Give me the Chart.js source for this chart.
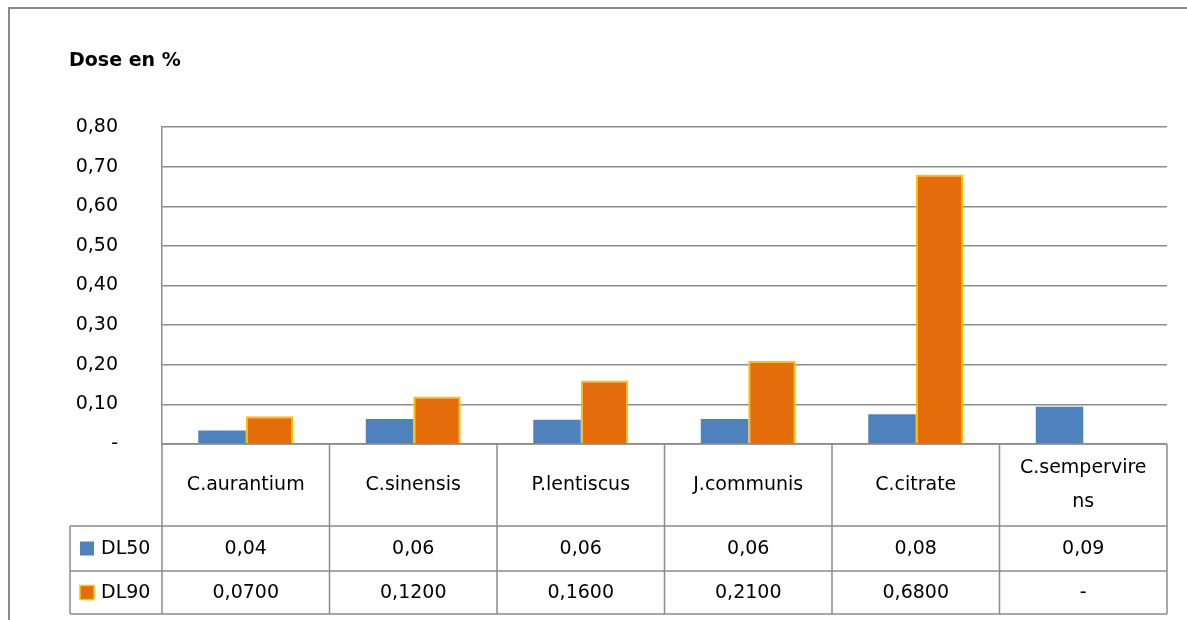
<!DOCTYPE html>
<html lang="fr">
<head>
    <meta charset="UTF-8">
    <title>Dose en %</title>
    <script src="https://cdn.jsdelivr.net/npm/chart.js"></script>
    <style>
        body { margin: 0; background: #fff; }
        #wrap { width: 1187px; height: 620px; position: relative; }
    </style>
</head>
<body>
<div id="wrap"><canvas id="myChart"></canvas></div>

<script>
    // données
    const categories = ['C.aurantium', 'C.sinensis', 'P.lentiscus', 'J.communis', 'C.citrate', ['C.sempervire', 'ns']];
    const dl50 = [0.034, 0.063, 0.061, 0.063, 0.075, 0.094];
    const dl90 = [0.07, 0.12, 0.16, 0.21, 0.68, null];
    const dl50Labels = ['0,04', '0,06', '0,06', '0,06', '0,08', '0,09'];
    const dl90Labels = ['0,0700', '0,1200', '0,1600', '0,2100', '0,6800', '-'];

    const FONT = '"DejaVu Sans", sans-serif';
    const lineCol = '#8c8c8c';

    // cadre, titre et tableau de données sous l'axe
    const tablePlugin = {
        id: 'dataTable',
        afterDraw(chart) {
            const ctx = chart.ctx;
            const area = chart.chartArea;
            const x = chart.scales.x;
            const n = categories.length;
            const cw = area.width / n;
            const top = area.bottom;
            const row1 = top + 82;
            const row2 = row1 + 45;
            const bottom = row2 + 43;
            const legLeft = 70;

            ctx.save();
            // cadre extérieur
            ctx.strokeStyle = '#8a8a8a';
            ctx.lineWidth = 2;
            ctx.beginPath();
            ctx.moveTo(9, 620);
            ctx.lineTo(9, 8);
            ctx.lineTo(1187, 8);
            ctx.stroke();

            // titre
            ctx.fillStyle = '#000';
            ctx.font = 'bold 19px ' + FONT;
            ctx.textBaseline = 'middle';
            ctx.textAlign = 'left';
            ctx.fillText('Dose en %', 69, 61);

            // lignes du tableau
            ctx.strokeStyle = lineCol;
            ctx.lineWidth = 1.5;
            ctx.beginPath();
            ctx.moveTo(area.left, top); ctx.lineTo(area.right, top);
            ctx.moveTo(legLeft, row1); ctx.lineTo(area.right, row1);
            ctx.moveTo(legLeft, row2); ctx.lineTo(area.right, row2);
            ctx.moveTo(legLeft, bottom); ctx.lineTo(area.right, bottom);
            ctx.moveTo(legLeft, row1); ctx.lineTo(legLeft, bottom);
            for (let i = 0; i <= n; i++) {
                const px = area.left + i * cw;
                ctx.moveTo(px, top); ctx.lineTo(px, bottom);
            }
            ctx.stroke();

            // textes
            ctx.font = '19px ' + FONT;
            ctx.textAlign = 'center';
            ctx.fillStyle = '#000';
            for (let i = 0; i < n; i++) {
                const cx = x.getPixelForValue(i);
                const lab = categories[i];
                if (Array.isArray(lab)) {
                    ctx.fillText(lab[0], cx, top + 24);
                    ctx.fillText(lab[1], cx, top + 58);
                } else {
                    ctx.fillText(lab, cx, top + 41);
                }
                ctx.fillText(dl50Labels[i], cx, (row1 + row2) / 2 + 1);
                ctx.fillText(dl90Labels[i], cx, (row2 + bottom) / 2 + 1);
            }

            // légende dans le tableau
            const ds = chart.data.datasets;
            const rows = [(row1 + row2) / 2, (row2 + bottom) / 2];
            ds.forEach((d, k) => {
                const cy = rows[k];
                ctx.fillStyle = d.backgroundColor;
                ctx.fillRect(80, cy - 7, 14, 14);
                if (d.borderWidth) {
                    ctx.strokeStyle = d.borderColor;
                    ctx.lineWidth = 1.5;
                    ctx.strokeRect(80, cy - 7, 14, 14);
                }
                ctx.fillStyle = '#000';
                ctx.textAlign = 'left';
                ctx.fillText(d.label, 101, cy + 1);
            });
            ctx.restore();
        }
    };

    const ctx = document.getElementById('myChart').getContext('2d');
    new Chart(ctx, {
        type: 'bar',
        data: {
            labels: categories,
            datasets: [{
                label: 'DL50',
                data: dl50,
                backgroundColor: '#4F81BD',
                borderWidth: 0
            }, {
                label: 'DL90',
                data: dl90,
                backgroundColor: '#E46C0A',
                borderColor: '#FFC000',
                borderWidth: 2
            }]
        },
        options: {
            responsive: true,
            maintainAspectRatio: false,
            animation: false,
            layout: { padding: { left: 0, right: 20, top: 127, bottom: 176 } },
            datasets: { bar: { categoryPercentage: 0.567, barPercentage: 1 } },
            plugins: {
                legend: { display: false },
                tooltip: { enabled: false }
            },
            scales: {
                x: { display: false },
                y: {
                    min: 0,
                    max: 0.8,
                    afterFit(scale) { scale.width = 162; },
                    ticks: {
                        stepSize: 0.1,
                        padding: 44,
                        color: '#000',
                        font: { family: FONT, size: 19 },
                        callback: v => v === 0 ? '-' : v.toFixed(2).replace('.', ',')
                    },
                    grid: { color: lineCol, lineWidth: 1.5, drawTicks: false },
                    border: { display: true, color: lineCol, width: 1.5 }
                }
            }
        },
        plugins: [tablePlugin]
    });
</script>
</body>
</html>
